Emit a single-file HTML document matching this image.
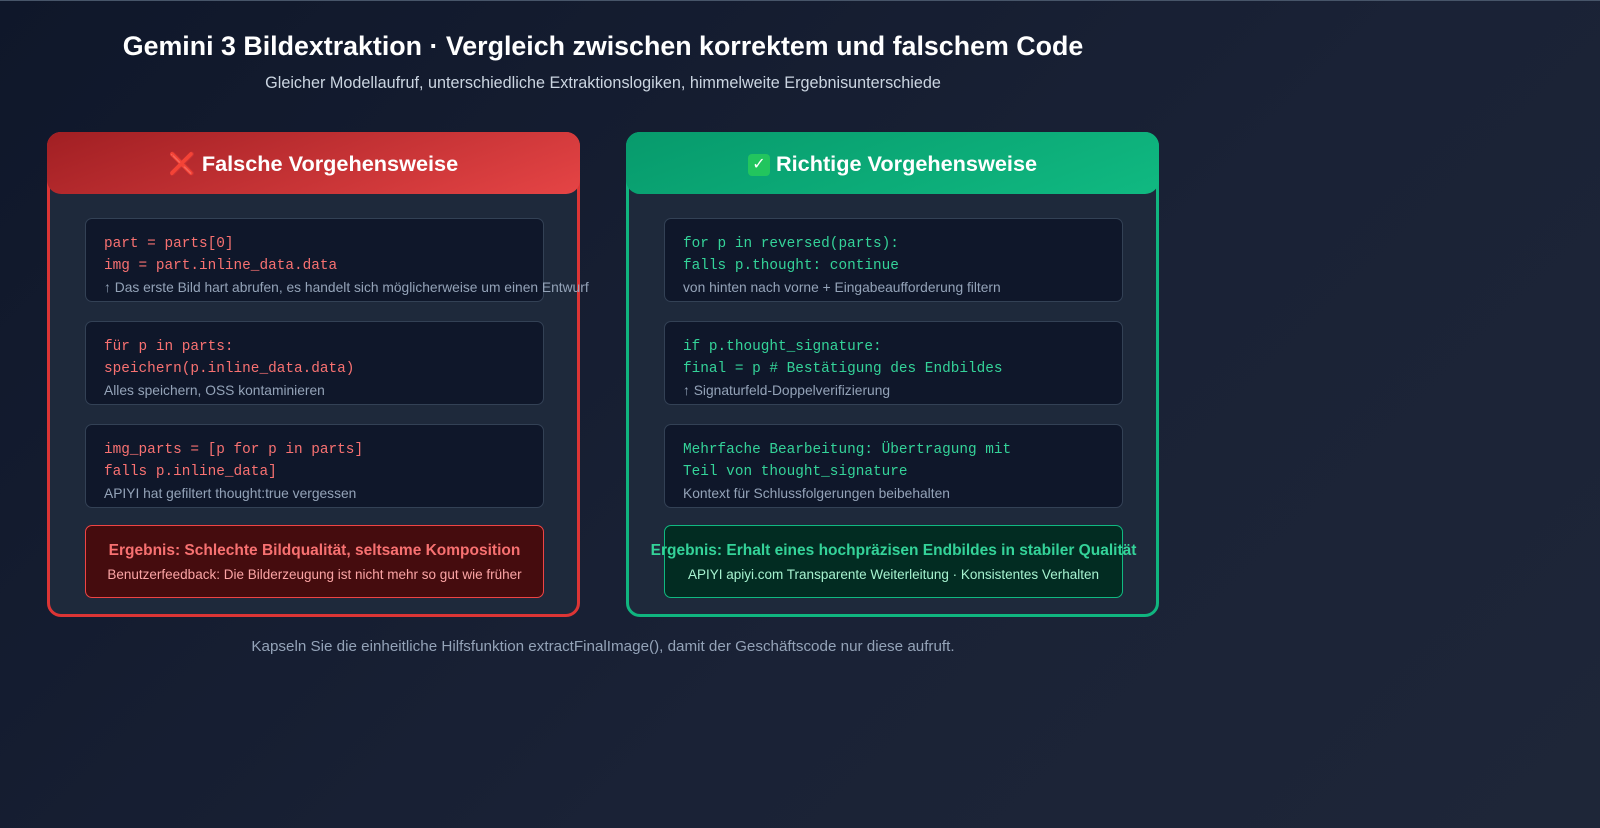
<!DOCTYPE html>
<html><head><meta charset="utf-8"><style>
*{margin:0;padding:0;box-sizing:border-box}
body{width:1600px;height:828px;overflow:hidden;background:linear-gradient(135deg,#0f172a 0%,#1a2236 60%,#1e2638 100%);font-family:"Liberation Sans","DejaVu Sans",sans-serif;position:relative;border-top:1px solid #475569}
.c{position:absolute;left:0;width:1206px;text-align:center;white-space:nowrap}
.panel{position:absolute;top:131px;width:533px;height:485px;border-radius:14px;background:#1e293b;border:3px solid}
.hd{position:absolute;left:-3px;top:-3px;width:533px;height:62px;border-radius:14px;color:#fff;font-weight:bold;font-size:21.7px;text-align:center;line-height:64px}
.box{position:absolute;left:35px;width:459px;height:84px;background:#0f172a;border:1px solid #334155;border-radius:7px;padding:14px 0 0 18px;white-space:nowrap}
.code{font-family:"Liberation Mono","DejaVu Sans Mono",monospace;font-size:14.4px;line-height:22px}
.cm{font-size:13.8px;color:#94a3b8;line-height:22px}
.res{position:absolute;left:35px;top:390px;width:459px;height:73px;border-radius:7px;border:1.5px solid;text-align:center;white-space:nowrap}
.r1{font-weight:bold;font-size:15.5px;margin-top:16px}
.r2{font-size:13.5px;margin-top:7px}
</style></head><body>
<div class="c" style="top:30px;font-size:26.8px;font-weight:bold;color:#fff">Gemini 3 Bildextraktion · Vergleich zwischen korrektem und falschem Code</div>
<div class="c" style="top:73px;font-size:16.2px;color:#cbd5e1">Gleicher Modellaufruf, unterschiedliche Extraktionslogiken, himmelweite Ergebnisunterschiede</div>

<div class="panel" style="left:47px;border-color:#dc3535">
<div class="hd" style="background:linear-gradient(160deg,#a11f23,#e54445)"><span style="color:#e00">❌</span> Falsche Vorgehensweise</div>
<div class="box" style="top:83px"><div class="code" style="color:#f87171">part = parts[0]<br>img = part.inline_data.data</div><div class="cm">↑ Das erste Bild hart abrufen, es handelt sich möglicherweise um einen Entwurf</div></div>
<div class="box" style="top:186px"><div class="code" style="color:#f87171">für p in parts:<br>speichern(p.inline_data.data)</div><div class="cm">Alles speichern, OSS kontaminieren</div></div>
<div class="box" style="top:289px"><div class="code" style="color:#f87171">img_parts = [p for p in parts]<br>falls p.inline_data]</div><div class="cm">APIYI hat gefiltert thought:true vergessen</div></div>
<div class="res" style="background:#450c0e;border-color:#ef4444"><div class="r1" style="color:#f87171">Ergebnis: Schlechte Bildqualität, seltsame Komposition</div><div class="r2" style="color:#fca5a5">Benutzerfeedback: Die Bilderzeugung ist nicht mehr so gut wie früher</div></div>
</div>

<div class="panel" style="left:626px;border-color:#10b57f">
<div class="hd" style="background:linear-gradient(160deg,#079a6c,#10b981)"><span style="display:inline-block;width:22px;height:22px;background:#22c55e;border-radius:4px;color:#fff;line-height:22px;font-size:16px;vertical-align:2px">✓</span> Richtige Vorgehensweise</div>
<div class="box" style="top:83px"><div class="code" style="color:#34d399">for p in reversed(parts):<br>falls p.thought: continue</div><div class="cm">von hinten nach vorne + Eingabeaufforderung filtern</div></div>
<div class="box" style="top:186px"><div class="code" style="color:#34d399">if p.thought_signature:<br>final = p # Bestätigung des Endbildes</div><div class="cm">↑ Signaturfeld-Doppelverifizierung</div></div>
<div class="box" style="top:289px"><div class="code" style="color:#34d399">Mehrfache Bearbeitung: Übertragung mit<br>Teil von thought_signature</div><div class="cm">Kontext für Schlussfolgerungen beibehalten</div></div>
<div class="res" style="background:#022c22;border-color:#10b981;overflow:visible"><div class="r1" style="color:#34d399;margin-left:-40px;margin-right:-40px">Ergebnis: Erhalt eines hochpräzisen Endbildes in stabiler Qualität</div><div class="r2" style="color:#a7f3d0">APIYI apiyi.com Transparente Weiterleitung · Konsistentes Verhalten</div></div>
</div>

<div class="c" style="top:637px;font-size:15.2px;color:#94a3b8">Kapseln Sie die einheitliche Hilfsfunktion extractFinalImage(), damit der Geschäftscode nur diese aufruft.</div>
</body></html>
